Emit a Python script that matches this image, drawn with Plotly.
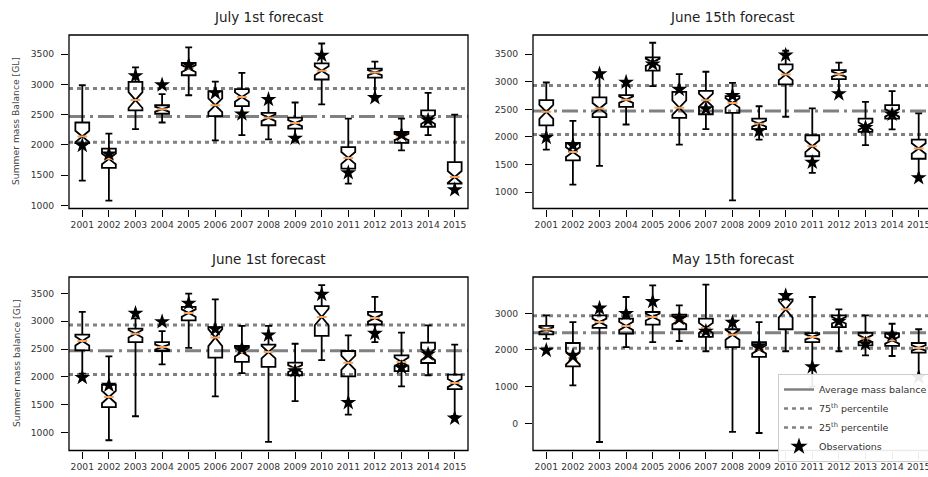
import plotly.graph_objects as go

years = list(range(2001, 2016))
year_labels = [str(y) for y in years]

observations = [1990, 1850, 3140, 2990, 3320, 2860, 2510, 2750, 2110, 3480, 1540, 2780, 2170, 2410, 1260]
avg_mb = 2470
p75_mb = 2930
p25_mb = 2045

# July 1st forecast
jul1_lo = [1410, 1080, 2260, 2370, 2820, 2075, 2160, 2090, 2115, 2670, 1360, 2760, 1910, 2160, 1250]
jul1_q1 = [2030, 1620, 2570, 2515, 3150, 2475, 2640, 2325, 2270, 3080, 1610, 3110, 2035, 2300, 1360]
jul1_med = [2140, 1770, 2740, 2590, 3260, 2655, 2790, 2450, 2360, 3225, 1785, 3195, 2130, 2420, 1470]
jul1_q3 = [2370, 1940, 3040, 2655, 3355, 2885, 2920, 2530, 2450, 3345, 1965, 3260, 2215, 2570, 1715]
jul1_hi = [2985, 2185, 3280, 2840, 3610, 3045, 3190, 2740, 2700, 3675, 2435, 3375, 2435, 2860, 2500]

# June 15th forecast
jun15_lo = [1770, 1135, 1475, 2225, 2920, 1860, 2140, 850, 1950, 2365, 1350, 2800, 1850, 2135, 1280]
jun15_q1 = [2210, 1575, 2360, 2545, 3200, 2345, 2410, 2435, 2140, 2950, 1650, 3045, 2090, 2330, 1605]
jun15_med = [2455, 1725, 2515, 2675, 3350, 2530, 2665, 2615, 2240, 3130, 1830, 3135, 2195, 2435, 1790]
jun15_q3 = [2665, 1890, 2715, 2755, 3440, 2815, 2835, 2740, 2330, 3315, 2030, 3210, 2330, 2575, 1950]
jun15_hi = [2985, 2290, 3120, 3000, 3705, 3135, 3180, 2980, 2555, 3560, 2515, 3345, 2635, 2830, 2425]

# June 1st forecast
jun1_lo = [2060, 865, 1295, 2225, 2520, 1650, 2070, 835, 1565, 2300, 1325, 2625, 1830, 2030, 1300]
jun1_q1 = [2475, 1460, 2625, 2465, 3015, 2345, 2270, 2180, 2030, 2735, 2010, 2940, 2105, 2250, 1780]
jun1_med = [2645, 1640, 2775, 2535, 3145, 2705, 2445, 2445, 2150, 3075, 2255, 3055, 2270, 2400, 1890]
jun1_q3 = [2760, 1860, 2865, 2625, 3255, 2895, 2555, 2580, 2255, 3270, 2465, 3165, 2385, 2615, 2040]
jun1_hi = [3165, 2370, 3050, 2820, 3495, 3390, 2915, 2915, 2595, 3645, 2745, 3435, 2795, 2925, 2580]

# May 15th forecast
may15_lo = [2300, 1035, -510, 2080, 2215, 2245, 1965, -235, -265, 1965, 1000, 1965, 1855, 1835, 1300]
may15_q1 = [2425, 1555, 2600, 2445, 2690, 2565, 2355, 2080, 1810, 2565, 2215, 2625, 2125, 2110, 1925]
may15_med = [2555, 1780, 2760, 2655, 2900, 2810, 2600, 2415, 2015, 3110, 2355, 2810, 2310, 2265, 2055]
may15_q3 = [2655, 2190, 2945, 2855, 3035, 2960, 2855, 2565, 2215, 3380, 2460, 2945, 2470, 2445, 2190]
may15_hi = [2945, 2760, 3050, 3445, 3760, 3215, 3780, 2800, 2760, 3450, 3445, 3105, 2945, 2715, 2565]

titles = ["July 1st forecast", "June 15th forecast", "June 1st forecast", "May 15th forecast"]
panels = [
    (jul1_lo, jul1_q1, jul1_med, jul1_q3, jul1_hi),
    (jun15_lo, jun15_q1, jun15_med, jun15_q3, jun15_hi),
    (jun1_lo, jun1_q1, jun1_med, jun1_q3, jun1_hi),
    (may15_lo, may15_q1, may15_med, may15_q3, may15_hi),
]
ensemble_size = 32  # notch = 1.57*IQR/sqrt(n), as matplotlib

W, H = 928, 477
FONT = "DejaVu Sans"
ORANGE = "#f5a25d"
GRAY = "#808080"

xdom = [[69 / W, 468 / W], [533 / W, 1.0], [69 / W, 468 / W], [533 / W, 1.0]]
ydom = [[1 - 208.5 / H, 1 - 35 / H], [1 - 208.5 / H, 1 - 35 / H],
        [1 - 450.5 / H, 1 - 277 / H], [1 - 450.5 / H, 1 - 277 / H]]
xranges = [[2000.5, 2015.5], [2000.5, 2015.35], [2000.5, 2015.5], [2000.5, 2015.35]]
yranges = [[950, 3815], [704, 3845], [681, 3792], [-742, 3990]]
ytickvals = [[1000, 1500, 2000, 2500, 3000, 3500]] * 3 + [[0, 1000, 2000, 3000]]

fig = go.Figure()
shapes = []
annotations = []

for i, (lo, q1, med, q3, hi) in enumerate(panels):
    xa = "x" if i == 0 else f"x{i+1}"
    ya = "y" if i == 0 else f"y{i+1}"
    notch = [1.57 * (b - a) / ensemble_size ** 0.5 for a, b in zip(q1, q3)]
    fig.add_trace(go.Box(
        x=years, q1=q1, median=med, q3=q3, lowerfence=lo, upperfence=hi,
        notchspan=notch, notched=True, notchwidth=0.5, width=0.52,
        whiskerwidth=0.5, boxpoints=False,
        line=dict(color="black", width=1.8), fillcolor="rgba(0,0,0,0)",
        xaxis=xa, yaxis=ya, showlegend=False, hoverinfo="skip",
    ))
    fig.add_trace(go.Scatter(
        x=years, y=med, mode="markers", xaxis=xa, yaxis=ya,
        marker=dict(symbol="line-ew", size=7, line=dict(color=ORANGE, width=2)),
        showlegend=False, hoverinfo="skip",
    ))
    fig.add_trace(go.Scatter(
        x=years, y=observations, mode="markers", xaxis=xa, yaxis=ya,
        marker=dict(symbol="star", size=12, color="black"),
        showlegend=False, hoverinfo="skip",
    ))
    # reference lines
    for val, dash in [(avg_mb, "16px,5px,3px,5px"), (p75_mb, "4px,4px"), (p25_mb, "4px,4px")]:
        shapes.append(dict(type="line", xref=f"{xa} domain", yref=ya, x0=0, x1=1,
                           y0=val, y1=val, layer="below",
                           line=dict(color=GRAY, width=3, dash=dash)))
    # frame
    x1 = xdom[i][1] if i in (0, 2) else 932 / W
    shapes.append(dict(type="rect", xref="paper", yref="paper",
                       x0=xdom[i][0], x1=x1, y0=ydom[i][0], y1=ydom[i][1],
                       line=dict(color="black", width=1.3), layer="above"))
    axis_common = dict(showgrid=False, zeroline=False, ticks="outside", ticklen=7,
                       tickwidth=1.2, tickcolor="black", ticklabeloverflow="allow",
                       tickfont=dict(family=FONT, size=9.2, color="#333333"))
    fig.layout[("xaxis" if i == 0 else f"xaxis{i+1}")] = dict(
        domain=xdom[i], range=xranges[i], anchor=ya, tickvals=years, ticktext=year_labels,
        **axis_common)
    fig.layout[("yaxis" if i == 0 else f"yaxis{i+1}")] = dict(
        domain=ydom[i], range=yranges[i], anchor=xa, tickvals=ytickvals[i],
        ticklabelstandoff=5, **axis_common)
    cx = (xdom[i][0] * W + (468 if i in (0, 2) else 932)) / 2 / W
    ty = 17 if i < 2 else 259
    annotations.append(dict(text=titles[i], x=cx, y=1 - ty / H, xref="paper", yref="paper",
                            showarrow=False, xanchor="center", yanchor="middle",
                            font=dict(family=FONT, size=13.5, color="#222222")))

annotations.append(dict(text="Summer mass Balance [GL]", x=16 / W, y=1 - 121 / H,
                        xref="paper", yref="paper", showarrow=False, textangle=-90,
                        xanchor="center", yanchor="middle",
                        font=dict(family=FONT, size=9.2, color="#444444")))
annotations.append(dict(text="Summer mass balance [GL]", x=16 / W, y=1 - 364 / H,
                        xref="paper", yref="paper", showarrow=False, textangle=-90,
                        xanchor="center", yanchor="middle",
                        font=dict(family=FONT, size=9.2, color="#444444")))

# legend entries
fig.add_trace(go.Scatter(x=[None], y=[None], mode="lines", name="Average mass balance",
                         line=dict(color=GRAY, width=2.5), xaxis="x4", yaxis="y4"))
fig.add_trace(go.Scatter(x=[None], y=[None], mode="lines", name="75<sup>th</sup> percentile",
                         line=dict(color=GRAY, width=2.5, dash="4px,4px"), xaxis="x4", yaxis="y4"))
fig.add_trace(go.Scatter(x=[None], y=[None], mode="lines", name="25<sup>th</sup> percentile",
                         line=dict(color=GRAY, width=2.5, dash="4px,4px"), xaxis="x4", yaxis="y4"))
fig.add_trace(go.Scatter(x=[None], y=[None], mode="markers", name="Observations",
                         marker=dict(symbol="star", size=13, color="black"), xaxis="x4", yaxis="y4"))

fig.update_layout(
    width=W, height=H, margin=dict(l=0, r=0, t=0, b=0, autoexpand=False),
    paper_bgcolor="white", plot_bgcolor="white",
    shapes=shapes, annotations=annotations,
    legend=dict(x=778 / W, y=1 - 374 / H, xanchor="left", yanchor="top",
                bgcolor="rgba(255,255,255,0.92)", bordercolor="#cccccc", borderwidth=1,
                font=dict(family=FONT, size=9.5, color="#333333"), tracegroupgap=0,
                itemwidth=30),
    font=dict(family=FONT),
)

fig.write_html("out.html", config={"displayModeBar": False},
               post_script="document.body.style.margin='0';document.body.style.overflow='hidden';")
